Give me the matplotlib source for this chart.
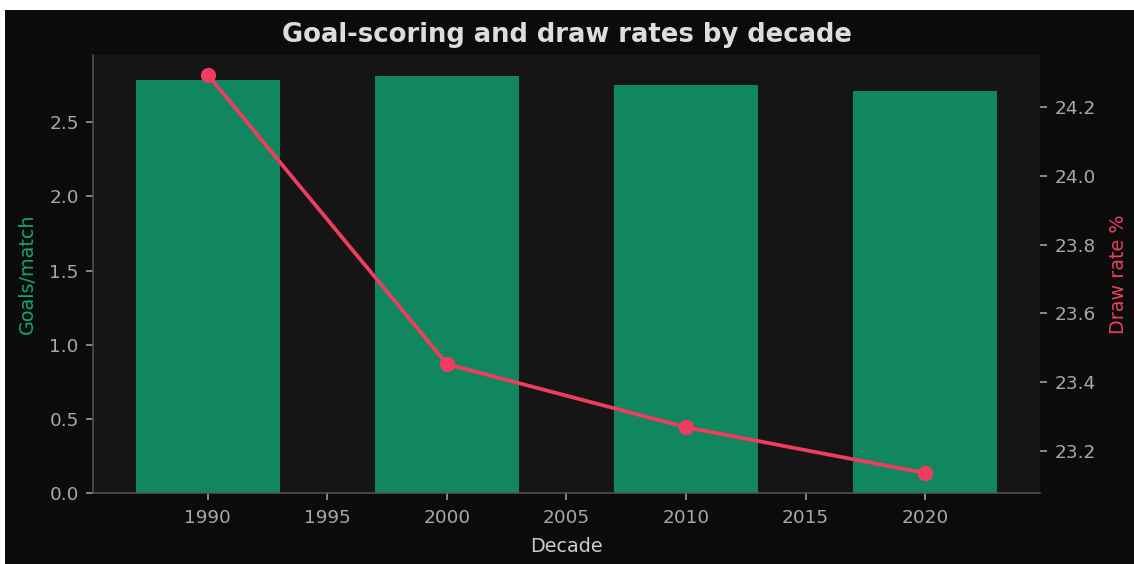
import matplotlib
matplotlib.use("Agg")
import matplotlib.pyplot as plt
from matplotlib.patches import Rectangle

decades = [1990, 2000, 2010, 2020]
goals_per_match = [2.786, 2.813, 2.748, 2.714]
draw_rate = [24.292, 23.453, 23.270, 23.137]

BG = "#0b0b0b"
AX_BG = "#151515"
GREEN = "#10875f"
RED = "#f03c5f"
TICK = "#a8a8a8"

plt.rcParams['font.family'] = ['DejaVu Sans']

fig = plt.figure(figsize=(11.34, 5.64), dpi=100, facecolor=BG)
# white strips at top and left of the reference canvas
fig.patches.append(Rectangle((0, 1 - 10 / 564), 1, 10 / 564, transform=fig.transFigure,
                             facecolor="white", edgecolor="none", zorder=-1))
fig.patches.append(Rectangle((0, 0), 5 / 1134, 1, transform=fig.transFigure,
                             facecolor="white", edgecolor="none", zorder=-1))

ax = fig.add_axes([93 / 1134, 1 - 493 / 564, (1040 - 93) / 1134, (493 - 55) / 564])
ax.set_facecolor(AX_BG)
ax.bar(decades, goals_per_match, width=6, color=GREEN, zorder=2)
ax.set_xlabel("Decade", color="#cccccc", fontsize=13.8, labelpad=7)
ax.set_ylabel("Goals/match", color="#14a673", fontsize=13.8, labelpad=9)
ax.tick_params(axis="y", colors=TICK, labelsize=13.3, length=4.7, width=1.1, pad=5.5)
ax.tick_params(axis="x", colors=TICK, labelsize=13.3, length=4.7, width=1.1, pad=7)
for s in ["top", "right"]:
    ax.spines[s].set_visible(False)
for s in ["left", "bottom"]:
    ax.spines[s].set_color("#555555")
    ax.spines[s].set_linewidth(1.1)

ax2 = ax.twinx()
ax2.plot(decades, draw_rate, color=RED, linewidth=2.7, marker="o", markersize=10, zorder=3)
ax2.set_ylabel("Draw rate %", color="#e8405f", fontsize=13.8, labelpad=10)
ax2.tick_params(colors=TICK, labelsize=13.3, length=4.7, width=1.1, pad=5.5)
for s in ["top", "right", "left", "bottom"]:
    ax2.spines[s].set_visible(False)

ax.set_title("Goal-scoring and draw rates by decade", color="#dddddd",
             fontsize=18.6, fontweight="bold", pad=9)

fig.savefig("out.png", dpi=100, facecolor=fig.get_facecolor())
